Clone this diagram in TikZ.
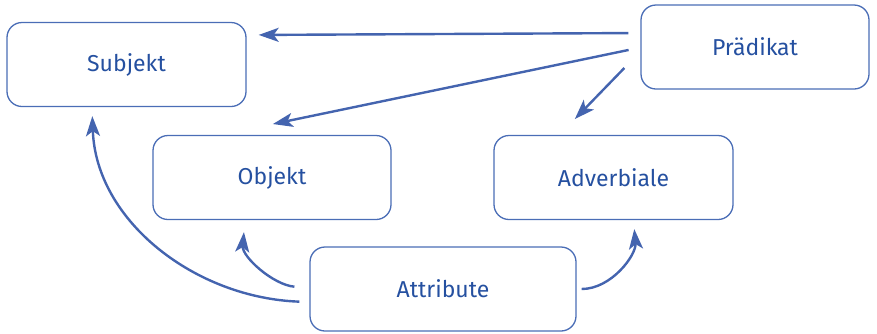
\documentclass[tikz,border=0pt]{standalone}
\usepackage{fontspec}
\setmainfont{Fira Sans}
\usetikzlibrary{arrows.meta}

\definecolor{boxblue}{HTML}{4A6DB6}
\definecolor{linkblue}{HTML}{4464AF}
\definecolor{textblue}{HTML}{2550A0}

\begin{document}
\begin{tikzpicture}[x=1pt, y=-1pt, every node/.style={font=\fontsize{23}{27}\selectfont},
	>={Stealth[length=20pt,width=14pt,inset=5pt]},
	part/.style={draw=boxblue, line width=1.3pt, rounded corners=15pt, text=textblue, minimum height=84pt, inner sep=0pt},
	link/.style={->, linkblue, line width=2.4pt}]
	\useasboundingbox (0,0) rectangle (877,333);
	\node[part, minimum width=239pt] (subj) at (126.5,64.5) {Subjekt};
	\node[part, minimum width=228pt] (prad) at (755,47) {Prädikat};
	\node[part, minimum width=238pt] (obj) at (272,177.5) {Objekt};
	\node[part, minimum width=239pt] (adv) at (613.5,177.5) {Adverbiale};
	\node[part, minimum width=266pt] (attr) at (443,289) {Attribute};
	\draw[link, shorten <=12pt, shorten >=12pt] ([yshift=14pt]prad.west) -- ([yshift=29.5pt]subj.east);
	\draw[link, shorten <=12pt, shorten >=53pt] ([yshift=-0.5pt]prad.west) -- ([xshift=-51pt]obj.north);
	\draw[link, shorten <=23pt, shorten >=22pt] ([yshift=-4.5pt]prad.west) -- ([xshift=-54pt]adv.north);
	\draw[link, shorten <=10pt, shorten >=9pt] ([yshift=-13pt]attr.west) to[out=178, in=-88] ([xshift=-34.5pt]subj.south);
	\draw[link, shorten <=15pt, shorten >=12pt] ([yshift=1pt]attr.west) to[out=175, in=-95] ([xshift=-27pt]obj.south);
	\draw[link, shorten <=5pt, shorten >=9pt] (attr.east) to[out=0, in=-85] ([xshift=20pt]adv.south);
\end{tikzpicture}
\end{document}
